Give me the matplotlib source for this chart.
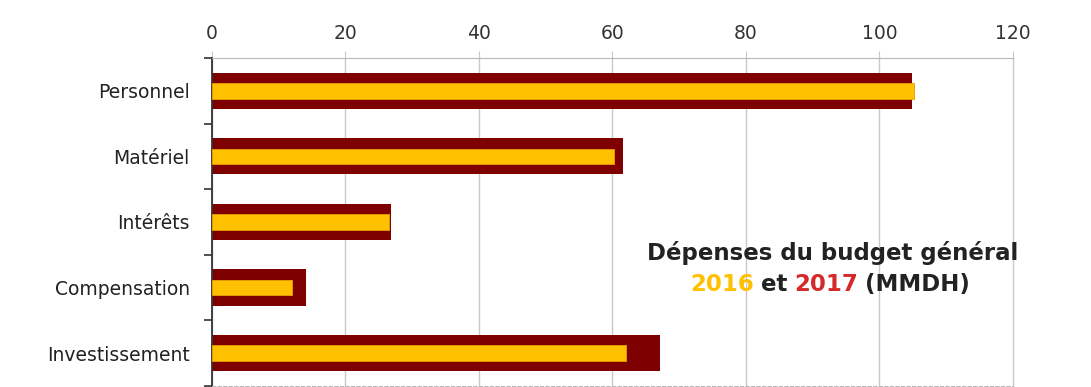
import matplotlib
matplotlib.use("Agg")
import matplotlib.pyplot as plt
import numpy as np

categories = ["Personnel", "Matériel", "Intérêts", "Compensation", "Investissement"]
values_2016 = [105.1, 60.2, 26.5, 12.0, 62.0]
values_2017 = [104.8, 61.6, 26.8, 14.1, 67.1]
xticks = [0, 20, 40, 60, 80, 100, 120]

plt.rcParams['font.family'] = ['DejaVu Sans']

fig = plt.figure(figsize=(10.91, 3.87), dpi=100)
ax = fig.add_axes([0.1943, 0.003, 0.7342, 0.847])

y = np.arange(len(categories))
ax.barh(y, values_2017, height=0.55, color="#7f0000", zorder=2)
ax.barh(y, values_2016, height=0.24, color="#ffc000", edgecolor="#e8a000",
        linewidth=0.6, zorder=3)

ax.set_xlim(0, 120)
ax.set_ylim(len(categories) - 0.5, -0.5)
ax.set_xticks(xticks)
ax.xaxis.tick_top()
ax.tick_params(axis='x', length=5, color="#c8c8c8", labelsize=13.5,
               labelcolor="#333333", pad=6)
ax.set_yticks(y)
ax.set_yticklabels(categories)
ax.set_yticks(np.arange(-0.5, len(categories), 1.0), minor=True)
ax.tick_params(axis='y', which='major', length=0, labelsize=13.5,
               labelcolor="#222222", pad=16)
ax.tick_params(axis='y', which='minor', length=6, width=1.2, color="#333333")
ax.grid(axis='x', color="#c8c8c8", linewidth=1.0, zorder=0)
ax.set_axisbelow(True)
for gl in ax.get_xgridlines():
    gl.set_clip_on(False)

ax.spines['top'].set_color("#b8b8b8")
ax.spines['right'].set_visible(False)
ax.spines['left'].set_color("#333333")
ax.spines['left'].set_linewidth(1.3)
ax.spines['bottom'].set_color("#b8b8b8")
ax.spines['bottom'].set_linestyle((0, (3, 2)))

# title inside the plot area, two lines with colored years
tf = dict(family=['DejaVu Sans'], fontweight='bold', fontsize=16.5)
fig.text(833 / 1091, 1 - 253 / 387, "Dépenses du budget général",
         color="#222222", ha='center', va='center', **tf)
t1 = fig.text(672 / 1091, 1 - 291 / 387, "2016", color="#ffc000",
              ha='left', va='baseline', **tf)
t2 = ax.annotate("et", xy=(1, 0), xycoords=t1, xytext=(5, 0),
                 textcoords='offset points', color="#222222",
                 ha='left', va='bottom', **tf)
t3 = ax.annotate("2017", xy=(1, 0), xycoords=t2, xytext=(5, 0),
                 textcoords='offset points', color="#d42a2a",
                 ha='left', va='bottom', **tf)
t4 = ax.annotate("(MMDH)", xy=(1, 0), xycoords=t3, xytext=(5, 0),
                 textcoords='offset points', color="#222222",
                 ha='left', va='bottom', **tf)

# center the second line around x = 830 px
fig.canvas.draw()
r = fig.canvas.get_renderer()
x0 = t1.get_window_extent(r).x0
x1 = t4.get_window_extent(r).x1
t1.set_x((830 - (x1 - x0) / 2) / 1091)

fig.savefig("out.png", dpi=100)
